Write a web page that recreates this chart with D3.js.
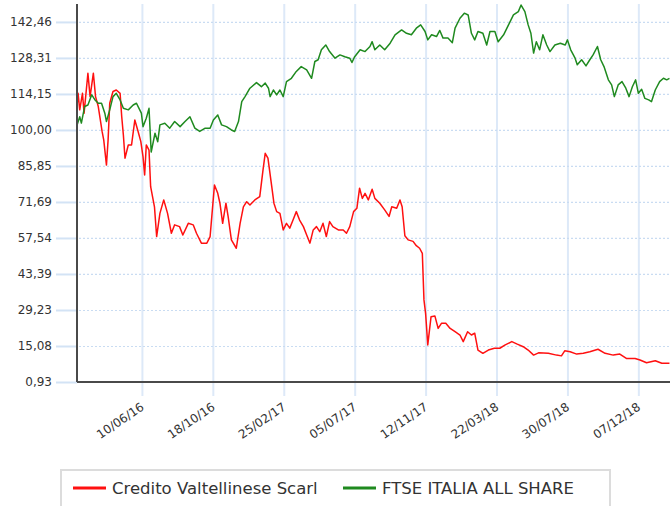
<!DOCTYPE html>
<html>
<head>
<meta charset="utf-8">
<script src="https://cdn.jsdelivr.net/npm/d3@7"></script>
<style>
  body { margin: 0; background: #fff; }
  text { font-family: "DejaVu Sans", Verdana, sans-serif; fill: #333; }
</style>
</head>
<body>
<div id="chart"></div>
<script>
// values
const yTicks = [0.93, 15.08, 29.23, 43.39, 57.54, 71.69, 85.85, 100.00, 114.15, 128.31, 142.46];
const xTickDates = ["2016-06-10", "2016-10-18", "2017-02-25", "2017-07-05", "2017-11-12", "2018-03-22", "2018-07-30", "2018-12-07"];
const dateRange = ["2016-02-12", "2019-02-03"];

const seriesNames = ["Credito Valtellinese Scarl", "FTSE ITALIA ALL SHARE"];
const seriesColors = ["#ff1010", "#1f8a1f"];

const creditoData = [
  ["2016-02-12",109.2],["2016-02-14",114.4],["2016-02-17",107.9],["2016-02-22",114.4],["2016-02-25",106.6],
  ["2016-03-03",122.3],["2016-03-07",113.1],["2016-03-13",122.3],["2016-03-17",113.1],["2016-03-22",109.2],
  ["2016-03-29",99.4],["2016-04-01",96.1],["2016-04-06",86.2],["2016-04-09",96.1],["2016-04-12",110.5],
  ["2016-04-18",115.1],["2016-04-24",115.7],["2016-05-01",114.4],["2016-05-04",105.2],["2016-05-07",98.0],
  ["2016-05-10",88.9],["2016-05-16",94.1],["2016-05-22",94.1],["2016-05-28",103.9],["2016-06-03",99.4],
  ["2016-06-08",95.4],["2016-06-12",89.5],["2016-06-15",82.3],["2016-06-18",94.1],["2016-06-23",92.1],
  ["2016-06-26",77.7],["2016-07-03",69.8],["2016-07-07",58.1],["2016-07-13",67.2],["2016-07-20",72.5],
  ["2016-07-27",67.2],["2016-08-03",59.4],["2016-08-09",62.7],["2016-08-18",62.0],["2016-08-24",58.7],
  ["2016-09-03",63.3],["2016-09-12",62.7],["2016-09-18",59.4],["2016-09-27",55.5],["2016-10-07",55.5],
  ["2016-10-13",58.1],["2016-10-21",78.4],["2016-10-27",75.1],["2016-10-31",71.2],["2016-11-05",63.3],
  ["2016-11-11",71.2],["2016-11-15",66.0],["2016-11-21",56.8],["2016-11-30",53.5],["2016-12-07",63.3],
  ["2016-12-13",69.8],["2016-12-19",71.8],["2016-12-25",70.5],["2017-01-03",72.5],["2017-01-12",73.8],
  ["2017-01-18",84.3],["2017-01-22",90.8],["2017-01-27",88.9],["2017-02-03",77.7],["2017-02-07",71.2],
  ["2017-02-12",67.9],["2017-02-18",67.2],["2017-02-24",60.7],["2017-03-02",63.3],["2017-03-08",61.4],
  ["2017-03-14",64.6],["2017-03-20",67.9],["2017-03-26",64.6],["2017-04-02",62.0],["2017-04-08",58.7],
  ["2017-04-14",55.5],["2017-04-20",60.7],["2017-04-26",62.0],["2017-05-02",60.0],["2017-05-08",63.3],
  ["2017-05-14",58.1],["2017-05-20",64.0],["2017-05-26",62.0],["2017-06-05",60.7],["2017-06-14",60.7],
  ["2017-06-20",59.4],["2017-06-26",62.0],["2017-07-03",67.9],["2017-07-09",69.2],["2017-07-14",77.1],
  ["2017-07-19",73.1],["2017-07-24",75.1],["2017-07-30",72.5],["2017-08-06",76.7],["2017-08-11",73.1],
  ["2017-08-20",71.2],["2017-08-29",68.6],["2017-09-06",66.0],["2017-09-11",69.8],["2017-09-20",69.2],
  ["2017-09-26",72.5],["2017-09-30",69.8],["2017-10-05",58.4],["2017-10-11",56.8],["2017-10-20",56.2],
  ["2017-10-26",54.5],["2017-11-01",53.5],["2017-11-06",51.5],["2017-11-09",33.2],["2017-11-12",27.9],
  ["2017-11-16",15.5],["2017-11-22",26.6],["2017-11-29",26.9],["2017-12-05",22.0],["2017-12-11",24.0],
  ["2017-12-19",24.0],["2017-12-27",22.0],["2018-01-05",20.7],["2018-01-14",19.4],["2018-01-20",16.8],
  ["2018-01-28",20.7],["2018-02-04",19.4],["2018-02-10",20.1],["2018-02-16",13.5],["2018-02-25",12.2],
  ["2018-03-07",13.5],["2018-03-18",14.2],["2018-03-28",14.2],["2018-04-07",15.5],["2018-04-19",16.8],
  ["2018-04-28",15.9],["2018-05-10",14.8],["2018-05-19",13.5],["2018-05-29",11.5],["2018-06-07",12.4],
  ["2018-06-25",12.2],["2018-07-10",11.5],["2018-07-19",11.2],["2018-07-25",13.2],["2018-08-04",12.8],
  ["2018-08-16",11.9],["2018-08-28",12.2],["2018-09-09",12.8],["2018-09-24",13.8],["2018-10-07",12.2],
  ["2018-10-22",11.5],["2018-11-03",11.9],["2018-11-15",10.2],["2018-12-01",10.2],["2018-12-10",9.6],
  ["2018-12-22",8.5],["2019-01-07",9.3],["2019-01-19",8.3],["2019-02-02",8.3]
];

const ftseData = [
  ["2016-02-12",101.8],["2016-02-17",105.2],["2016-02-20",102.7],["2016-02-26",109.2],["2016-03-03",109.8],
  ["2016-03-10",113.8],["2016-03-16",111.8],["2016-03-22",110.5],["2016-03-28",110.5],["2016-04-03",106.6],
  ["2016-04-06",103.3],["2016-04-12",107.9],["2016-04-18",113.1],["2016-04-24",114.4],["2016-05-01",111.8],
  ["2016-05-07",108.5],["2016-05-16",107.9],["2016-05-25",109.8],["2016-05-31",110.5],["2016-06-06",107.9],
  ["2016-06-09",106.6],["2016-06-12",101.3],["2016-06-18",104.6],["2016-06-23",108.5],["2016-06-27",91.3],
  ["2016-07-04",98.7],["2016-07-09",95.4],["2016-07-13",102.0],["2016-07-22",102.6],["2016-07-31",100.7],
  ["2016-08-09",103.3],["2016-08-19",101.3],["2016-08-28",103.3],["2016-09-06",105.2],["2016-09-15",100.7],
  ["2016-09-24",99.4],["2016-10-04",100.7],["2016-10-13",100.7],["2016-10-19",103.9],["2016-10-27",105.9],
  ["2016-11-03",102.0],["2016-11-12",101.3],["2016-11-21",100.0],["2016-11-27",99.4],["2016-12-04",103.3],
  ["2016-12-10",111.1],["2016-12-16",113.1],["2016-12-25",116.4],["2017-01-06",118.6],["2017-01-15",117.0],
  ["2017-01-22",118.4],["2017-01-28",116.4],["2017-01-31",113.1],["2017-02-06",115.7],["2017-02-12",113.8],
  ["2017-02-18",115.7],["2017-02-24",113.1],["2017-03-02",119.0],["2017-03-11",120.3],["2017-03-20",123.0],
  ["2017-03-29",124.9],["2017-04-08",123.6],["2017-04-17",120.3],["2017-04-23",126.9],["2017-04-29",127.6],
  ["2017-05-05",131.5],["2017-05-13",133.4],["2017-05-20",130.8],["2017-05-30",128.2],["2017-06-08",129.5],
  ["2017-06-17",128.8],["2017-06-26",128.2],["2017-06-30",126.5],["2017-07-05",128.8],["2017-07-15",131.5],
  ["2017-07-24",130.8],["2017-08-02",132.8],["2017-08-06",134.7],["2017-08-11",131.5],["2017-08-20",133.4],
  ["2017-08-29",131.5],["2017-09-08",134.1],["2017-09-17",137.4],["2017-09-29",139.3],["2017-10-08",138.0],
  ["2017-10-17",137.4],["2017-10-26",140.0],["2017-11-03",141.3],["2017-11-11",138.7],["2017-11-16",135.4],
  ["2017-11-23",137.4],["2017-12-02",136.7],["2017-12-08",139.1],["2017-12-14",136.1],["2017-12-23",136.1],
  ["2017-12-31",134.3],["2018-01-05",140.0],["2018-01-14",143.9],["2018-01-22",145.9],["2018-01-29",145.2],
  ["2018-02-04",138.0],["2018-02-10",135.4],["2018-02-16",138.7],["2018-02-25",138.0],["2018-03-04",133.4],
  ["2018-03-10",138.7],["2018-03-19",138.7],["2018-03-25",134.7],["2018-04-04",137.4],["2018-04-13",141.3],
  ["2018-04-22",145.2],["2018-05-01",146.5],["2018-05-06",149.1],["2018-05-13",146.5],["2018-05-19",141.3],
  ["2018-05-24",138.0],["2018-05-29",130.2],["2018-06-03",134.7],["2018-06-09",131.5],["2018-06-15",137.4],
  ["2018-06-22",133.4],["2018-06-28",130.8],["2018-07-07",133.4],["2018-07-17",134.1],["2018-07-26",133.4],
  ["2018-07-30",135.4],["2018-08-05",131.5],["2018-08-13",128.2],["2018-08-17",125.6],["2018-08-25",127.6],
  ["2018-09-02",125.2],["2018-09-09",127.6],["2018-09-15",129.5],["2018-09-23",132.8],["2018-09-29",127.6],
  ["2018-10-05",124.9],["2018-10-13",119.7],["2018-10-19",117.7],["2018-10-24",113.1],["2018-10-31",117.7],
  ["2018-11-07",119.0],["2018-11-14",116.4],["2018-11-20",113.1],["2018-11-26",117.0],["2018-12-02",119.7],
  ["2018-12-07",114.4],["2018-12-13",116.0],["2018-12-19",112.4],["2018-12-26",111.8],["2018-12-31",111.1],
  ["2019-01-07",115.7],["2019-01-15",119.0],["2019-01-22",120.3],["2019-01-28",119.7],["2019-02-02",120.3]
];

const W = 670, H = 506;
const margin = { top: 4, right: 0, bottom: 124, left: 77 };
const plotW = W - margin.left - margin.right;
const plotH = H - margin.top - margin.bottom;

const parse = d3.utcParse("%Y-%m-%d");
const fmtDate = d3.utcFormat("%d/%m/%y");
const fmtVal = v => v.toFixed(2).replace(".", ",");

const x = d3.scaleUtc()
  .domain(dateRange.map(parse))
  .range([0, plotW]);

const step = yTicks[1] - yTicks[0];
const y = d3.scaleLinear()
  .domain([yTicks[0], yTicks[0] + step * 10.5])
  .range([plotH, 0]);

const svg = d3.select("#chart").append("svg")
  .attr("width", W)
  .attr("height", H);

const g = svg.append("g")
  .attr("transform", `translate(${margin.left},${margin.top})`);

// vertical grid + ticks below the axis
const xAxis = d3.axisBottom(x)
  .tickValues(xTickDates.map(parse))
  .tickSize(-plotH - 0)
  .tickSizeOuter(0)
  .tickFormat("");
const xg = g.append("g")
  .attr("transform", `translate(0,${plotH + 14})`)
  .call(xAxis);
xg.select(".domain").remove();
xg.selectAll(".tick line")
  .attr("y1", 0)
  .attr("y2", -plotH - 14)
  .attr("stroke", "#dde9f8")
  .attr("stroke-width", 2);

// x labels, rotated
g.append("g").selectAll("text")
  .data(xTickDates.map(parse))
  .join("text")
  .attr("transform", d => `translate(${x(d) + 3},${plotH + 27}) rotate(-34)`)
  .attr("text-anchor", "end")
  .style("font-size", "12px")
  .text(d => fmtDate(d));

// horizontal grid
const yAxis = d3.axisLeft(y)
  .tickValues(yTicks)
  .tickSize(0)
  .tickFormat(fmtVal);
const yg = g.append("g").call(yAxis);
yg.select(".domain").remove();
yg.selectAll(".tick text")
  .attr("x", -25)
  .style("font-size", "12px")
  .style("font-family", '"DejaVu Sans", Verdana, sans-serif')
  .attr("fill", "#333");
yg.selectAll(".tick").append("line")
  .attr("x1", -21).attr("x2", 0)
  .attr("stroke", "#d3e3f5")
  .attr("stroke-width", 2);
yg.selectAll(".tick").append("line")
  .attr("x1", 2).attr("x2", plotW)
  .attr("stroke", "#c9dcf2")
  .attr("stroke-width", 1.2)
  .attr("stroke-dasharray", "2,2");

// series
g.append("clipPath").attr("id", "clip")
  .append("rect").attr("width", plotW).attr("height", plotH);

const line = d3.line()
  .x(d => x(parse(d[0])))
  .y(d => y(d[1]));

[creditoData, ftseData].forEach((data, i) => {
  g.append("path")
    .datum(data)
    .attr("clip-path", "url(#clip)")
    .attr("fill", "none")
    .attr("stroke", seriesColors[i])
    .attr("stroke-width", 1.5)
    .attr("stroke-linejoin", "round")
    .attr("d", line);
});

// axes lines
g.append("line")
  .attr("x1", 0).attr("x2", 0).attr("y1", 0).attr("y2", plotH)
  .attr("stroke", "#4a4a4a").attr("stroke-width", 2);
g.append("line")
  .attr("x1", 0).attr("x2", plotW).attr("y1", plotH).attr("y2", plotH)
  .attr("stroke", "#4a4a4a").attr("stroke-width", 2);

// legend
const legend = svg.append("g").attr("class", "legend");
legend.append("rect")
  .attr("x", 61).attr("y", 470)
  .attr("width", 549).attr("height", 50)
  .attr("fill", "#fff")
  .attr("stroke", "#dcdcdc")
  .attr("stroke-width", 2);

const legendX = [73, 343];
seriesNames.forEach((name, i) => {
  legend.append("line")
    .attr("x1", legendX[i]).attr("x2", legendX[i] + 33)
    .attr("y1", 488).attr("y2", 488)
    .attr("stroke", seriesColors[i])
    .attr("stroke-width", 3);
  legend.append("text")
    .attr("x", legendX[i] + 39)
    .attr("y", 494)
    .style("font-size", "16.5px")
    .text(name);
});
</script>
</body>
</html>
